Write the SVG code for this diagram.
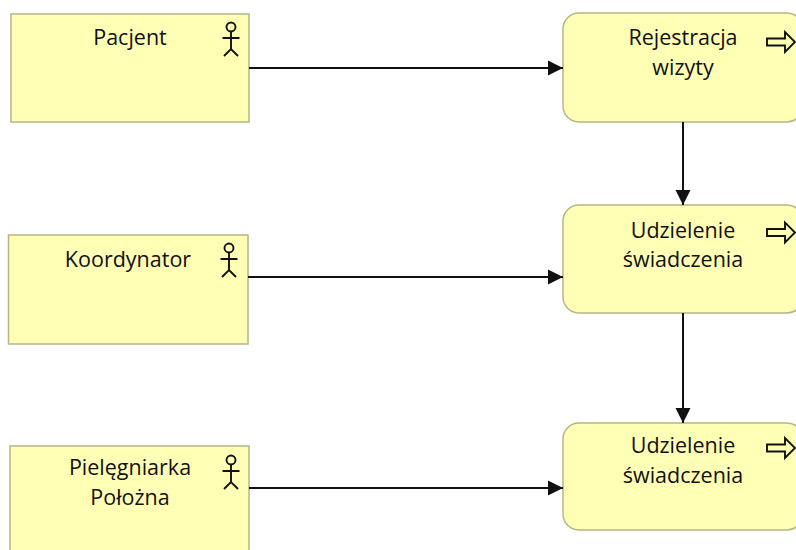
<svg xmlns="http://www.w3.org/2000/svg" width="796" height="550" viewBox="0 0 796 550">
  <style>
    .box { fill: #FFFFB5; stroke: #b5b585; stroke-width: 1.5; }
    .lbl { font-family: "Open Sans", "Noto Sans", sans-serif; font-size: 21.5px; fill: #111111; text-anchor: middle; }
    .icon { fill: none; stroke: #111111; stroke-width: 1.9; }
    .conn { fill: none; stroke: #111111; stroke-width: 2; }
  </style>
  <defs>
    <marker id="arr" markerUnits="userSpaceOnUse" markerWidth="16" markerHeight="16" viewBox="0 0 16 16" refX="15" refY="8" orient="auto">
      <path d="M0,0.5 L15,8 L0,15.5 z" fill="#111111"/>
    </marker>
    <g id="actor" class="icon">
      <circle cx="0" cy="0" r="4.5"/>
      <path d="M0,4.5 V22 M-8.5,11 H8.5 M-7,29 L0,22 L7,29"/>
    </g>
  </defs>
  <rect width="796" height="550" fill="#ffffff"/>

  <g id="pacjent">
    <rect class="box" x="11" y="14" width="238" height="108"/>
    <text class="lbl" x="130" y="45">Pacjent</text>
    <use href="#actor" x="231" y="27"/>
  </g>
  <g id="koordynator">
    <rect class="box" x="8.5" y="235" width="239.5" height="109"/>
    <text class="lbl" x="128" y="267">Koordynator</text>
    <use href="#actor" x="229" y="248"/>
  </g>
  <g id="pielegniarka">
    <rect class="box" x="10" y="446" width="239" height="120"/>
    <text class="lbl" x="130" y="475">Pielęgniarka</text>
    <text class="lbl" x="130" y="505">Położna</text>
    <use href="#actor" x="231" y="460"/>
  </g>

  <g id="rejestracja">
    <rect class="box" x="563" y="13" width="240" height="109" rx="16"/>
    <text class="lbl" x="683" y="45">Rejestracja</text>
    <text class="lbl" x="683" y="75">wizyty</text>
    <path class="icon" d="M767,38.5 H785 V32 L795,42 L785,52 V45.5 H767 z"/>
  </g>
  <g id="udzielenie1">
    <rect class="box" x="563" y="205" width="240" height="108" rx="16"/>
    <text class="lbl" x="683" y="238">Udzielenie</text>
    <text class="lbl" x="683" y="267">świadczenia</text>
    <path class="icon" d="M767,229 H785 V222.5 L795,232.5 L785,242.5 V236 H767 z"/>
  </g>
  <g id="udzielenie2">
    <rect class="box" x="563" y="423" width="240" height="107" rx="16"/>
    <text class="lbl" x="683" y="453">Udzielenie</text>
    <text class="lbl" x="683" y="483">świadczenia</text>
    <path class="icon" d="M767,444.5 H785 V438 L795,448 L785,458 V451.5 H767 z"/>
  </g>

  <g id="connectors">
    <line class="conn" x1="249" y1="68" x2="563" y2="68" marker-end="url(#arr)"/>
    <line class="conn" x1="248" y1="277" x2="563" y2="277" marker-end="url(#arr)"/>
    <line class="conn" x1="249" y1="488" x2="563" y2="488" marker-end="url(#arr)"/>
    <line class="conn" x1="683" y1="122" x2="683" y2="205" marker-end="url(#arr)"/>
    <line class="conn" x1="683" y1="313" x2="683" y2="423" marker-end="url(#arr)"/>
  </g>
</svg>
